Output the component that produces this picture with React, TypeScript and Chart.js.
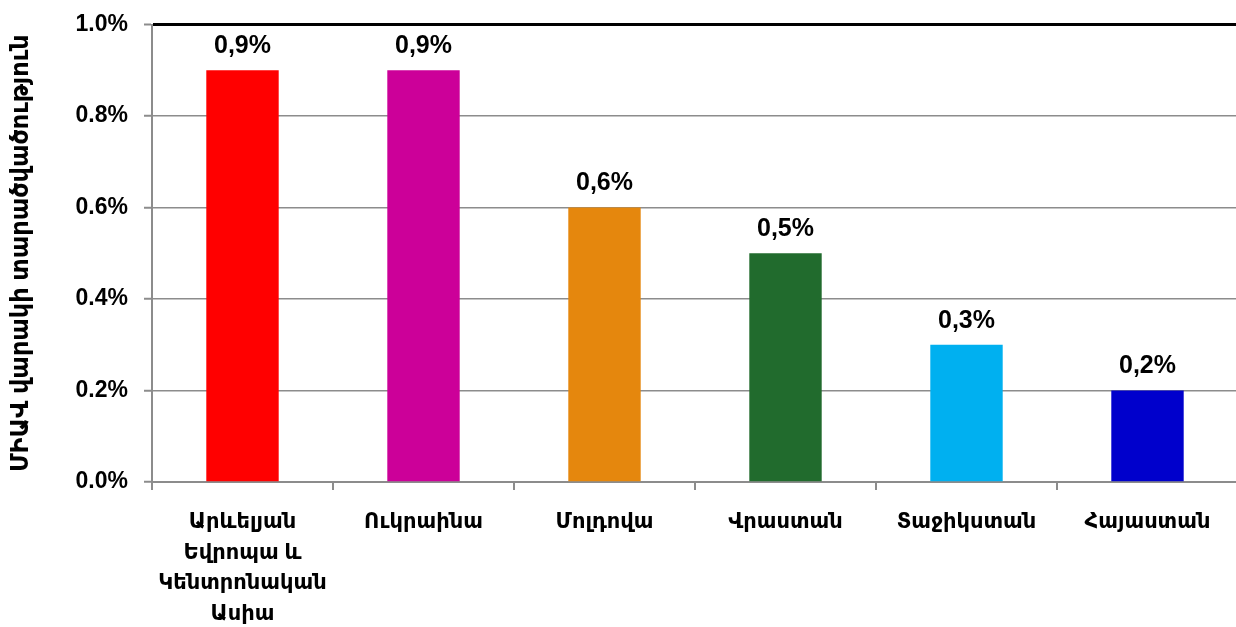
import React, { useEffect, useRef } from "react";
import { Chart, registerables } from "chart.js";

Chart.register(...registerables);

const categories: string[][] = [
  ["Արևելյան", "Եվրոպա և", "Կենտրոնական", "Ասիա"],
  ["Ուկրաինա"],
  ["Մոլդովա"],
  ["Վրաստան"],
  ["Տաջիկստան"],
  ["Հայաստան"],
];
const values: number[] = [0.9, 0.9, 0.6, 0.5, 0.3, 0.2];
const barColors: string[] = ["#FF0000", "#CC0099", "#E5870D", "#216B2D", "#00B0F0", "#0000CC"];
const yTitle = "ՄԻԱՎ վարակի տարածվածություն";
const yMax = 1.0;
const yStep = 0.2;

const FONT = "'Liberation Sans', Arial, 'DejaVu Sans', sans-serif";

const dataLabels = {
  id: "dataLabels",
  afterDatasetsDraw(chart: any) {
    const ctx = chart.ctx;
    const meta = chart.getDatasetMeta(0);
    ctx.save();
    ctx.font = `bold 25px ${FONT}`;
    ctx.fillStyle = "#000";
    ctx.textAlign = "center";
    ctx.textBaseline = "middle";
    meta.data.forEach((el: any, i: number) => {
      const v = values[i];
      ctx.fillText(v.toFixed(1).replace(".", ",") + "%", el.x, el.y - 24);
    });
    ctx.restore();
  },
};

export default function App() {
  const ref = useRef<HTMLCanvasElement>(null);
  useEffect(() => {
    if (!ref.current) return;
    const chart = new Chart(ref.current, {
      type: "bar",
      data: {
        labels: categories,
        datasets: [
          {
            data: values,
            backgroundColor: barColors,
            categoryPercentage: 1,
            barPercentage: 0.4,
          },
        ],
      },
      options: {
        animation: false,
        responsive: false,
        maintainAspectRatio: false,
        layout: { padding: { top: 24.5, right: 12, left: 0, bottom: 0 } },
        plugins: { legend: { display: false }, tooltip: { enabled: false } },
        scales: {
          x: {
            grid: {
              display: true,
              drawOnChartArea: false,
              drawTicks: true,
              tickLength: 8,
              color: "#8C8C8C",
              lineWidth: 2,
            },
            border: { display: true, color: "#8C8C8C", width: 2 },
            ticks: {
              color: "#000",
              font: { family: FONT, size: 21, weight: "bold", lineHeight: 1.46 },
              padding: 17,
              maxRotation: 0,
              autoSkip: false,
            },
            afterFit: (scale: any) => {
              scale.height = 145;
              scale.paddingLeft = 0;
              scale.paddingRight = 0;
            },
          },
          y: {
            min: 0,
            max: yMax,
            ticks: {
              stepSize: yStep,
              color: "#000",
              font: { family: FONT, size: 23, weight: "bold" },
              padding: 16,
              callback: (v: any) => Number(v).toFixed(1) + "%",
            },
            grid: {
              color: (c: any) => (c.tick && Math.abs(c.tick.value - yMax) < 1e-9 ? "#000000" : "#8C8C8C"),
              lineWidth: (c: any) => (c.tick && Math.abs(c.tick.value - yMax) < 1e-9 ? 3 : 1.5),
              tickColor: "#8C8C8C",
              tickWidth: 2,
              tickLength: 8,
            },
            border: { display: true, color: "#8C8C8C", width: 2 },
            title: {
              display: true,
              text: yTitle,
              color: "#000",
              font: { family: FONT, size: 24, weight: "bold" },
              padding: { top: 7, bottom: 0 },
            },
            afterFit: (scale: any) => {
              scale.width = 152;
              scale.paddingTop = 0;
              scale.paddingBottom = 0;
            },
          },
        },
      },
      plugins: [dataLabels],
    });
    return () => chart.destroy();
  }, []);
  return (
    <div style={{ position: "absolute", left: 0, top: 0, width: 1250, height: 627, background: "#fff" }}>
      <canvas ref={ref} width={1250} height={627} style={{ display: "block" }} />
    </div>
  );
}
